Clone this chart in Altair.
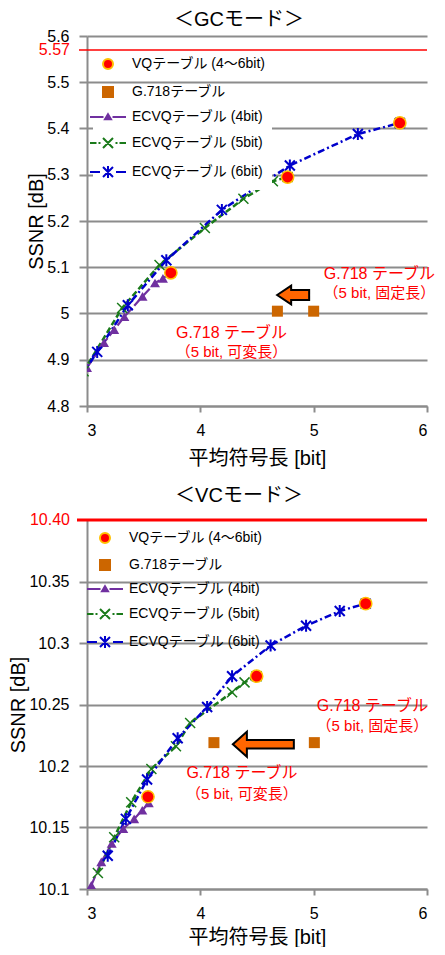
import altair as alt
import pandas as pd

FONT = "Liberation Sans, Noto Sans CJK JP, sans-serif"

# ---------------- data ----------------
series_names = ["VQテーブル (4～6bit)", "G.718テーブル", "ECVQテーブル (4bit)",
                "ECVQテーブル (5bit)", "ECVQテーブル (6bit)"]
x_ticks = [3, 4, 5, 6]

# GC mode
gc_vq_x = [3.74, 4.77, 5.76]
gc_vq_y = [5.088, 5.295, 5.412]
gc_g718_x = [4.68, 5.00]
gc_g718_y = [5.005, 5.005]
gc_e4_x = [3.00, 3.15, 3.24, 3.33, 3.49, 3.60, 3.67, 3.74]
gc_e4_y = [4.883, 4.937, 4.965, 4.993, 5.037, 5.066, 5.076, 5.088]
gc_e5_x = [2.97, 3.31, 3.64, 4.04, 4.38, 4.64, 4.77]
gc_e5_y = [4.875, 5.012, 5.105, 5.185, 5.248, 5.286, 5.295]
gc_e6_x = [2.88, 3.09, 3.36, 3.70, 4.19, 4.79, 5.39, 5.76]
gc_e6_y = [4.840, 4.917, 5.018, 5.115, 5.224, 5.320, 5.388, 5.412]
gc_limit = [5.57]
gc_limit_label = ["5.57"]
gc_y_ticks = [4.8, 4.9, 5.0, 5.1, 5.2, 5.3, 5.4, 5.5, 5.6]
gc_ann_x = [5.58, 5.58, 4.275, 4.275]
gc_ann_y = [5.086, 5.045, 4.958, 4.917]
gc_ann_text = ["G.718 テーブル", "（5 bit, 固定長）", "G.718 テーブル", "（5 bit, 可変長）"]
gc_arrow_x = [4.819]
gc_arrow_y = [5.040]

# VC mode
vc_vq_x = [3.538, 4.497, 5.459]
vc_vq_y = [10.175, 10.273, 10.332]
vc_g718_x = [4.12, 5.006]
vc_g718_y = [10.219, 10.219]
vc_e4_x = [3.038, 3.126, 3.218, 3.320, 3.416, 3.488, 3.545]
vc_e4_y = [10.103, 10.122, 10.137, 10.149, 10.157, 10.164, 10.170]
vc_e5_x = [3.096, 3.240, 3.390, 3.568, 3.785, 3.910, 4.280, 4.390, 4.497]
vc_e5_y = [10.113, 10.142, 10.1705, 10.1976, 10.216, 10.235, 10.260, 10.268, 10.273]
vc_e6_x = [3.183, 3.343, 3.530, 3.800, 4.060, 4.280, 4.620, 4.933, 5.230, 5.459]
vc_e6_y = [10.127, 10.157, 10.189, 10.2225, 10.248, 10.273, 10.298, 10.314, 10.326, 10.332]
vc_limit = [10.40]
vc_limit_label = ["10.40"]
vc_y_ticks = [10.1, 10.15, 10.2, 10.25, 10.3, 10.35]
vc_ann_x = [5.518, 5.518, 4.367, 4.367]
vc_ann_y = [10.249, 10.2325, 10.194, 10.177]
vc_ann_text = ["G.718 テーブル", "（5 bit, 固定長）", "G.718 テーブル", "（5 bit, 可変長）"]
vc_arrow_x = [4.556]
vc_arrow_y = [10.2177]

# ---------------- styles ----------------
RED = "#FF0000"
GOLD = "#FFC000"
BROWN = "#CC6600"
PURPLE = "#7030A0"
GREEN = "#1A7A1A"
BLUE = "#0000CC"
GRAY = "#8C8C8C"

X_PATH = "M -1 -1 L 1 1 M -1 1 L 1 -1"
AST_PATH = "M -1 -1 L 1 1 M -1 1 L 1 -1 M 0 -1.2 L 0 1.2"
LEG4 = "M -3.6 0 L -0.9 0 M 0.9 0 L 3.6 0 M 0 -0.55 L 0.6 0.45 L -0.6 0.45 Z"
LEG5 = "M -3.6 0 L -2.3 0 M -1.9 0 L -1.5 0 M 1.5 0 L 1.9 0 M 2.3 0 L 3.6 0 " + X_PATH
LEG6 = "M -3.6 0 L -1.6 0 M 1.6 0 L 3.6 0 " + AST_PATH
leg_shapes = ["circle", "square", LEG4, LEG5, LEG6]
leg_fills = [RED, BROWN, PURPLE, "transparent", "transparent"]
leg_strokes = [GOLD, BROWN, PURPLE, GREEN, BLUE]


def legend_layer(names, shapes, fills, strokes, lx, ly, pad, fillc, rowpad):
    legend = alt.Legend(orient="none", legendX=lx, legendY=ly, title=None,
                        labelFont=FONT, labelFontSize=14, symbolSize=100,
                        symbolStrokeWidth=2, labelOffset=17, rowPadding=rowpad,
                        padding=pad, fillColor=fillc, labelLimit=400)
    d = pd.DataFrame({"series": names})
    return alt.Chart(d).mark_point(size=100, filled=True, opacity=1).encode(
        shape=alt.Shape("series:N", scale=alt.Scale(domain=names, range=shapes),
                        legend=legend, sort=names),
        fill=alt.Fill("series:N", scale=alt.Scale(domain=names, range=fills),
                      legend=legend, sort=names),
        stroke=alt.Stroke("series:N", scale=alt.Scale(domain=names, range=strokes),
                          legend=legend, sort=names),
    ).transform_filter("false")


def panel(title, vq_x, vq_y, g_x, g_y, e4_x, e4_y, e5_x, e5_y, e6_x, e6_y,
          limit, limit_label, limit_w, limit_x0, y_ticks, ydom, ann_x, ann_y, ann_text,
          arr_x, arr_y, arr_path, arr_size, width, height, legA, legB, title_off,
          x_title_pad):
    X = alt.X("x:Q", scale=alt.Scale(domain=[3, 6], nice=False, zero=False),
              axis=alt.Axis(values=x_ticks, title="平均符号長 [bit]", grid=False,
                            tickSize=6, labelPadding=10, titlePadding=x_title_pad))
    Y = alt.Y("y:Q", scale=alt.Scale(domain=ydom, nice=False, zero=False),
              axis=alt.Axis(values=y_ticks, title="SSNR [dB]", grid=True,
                            tickSize=8, labelPadding=10, format="~g", titlePadding=0))

    def df(xs, ys):
        return pd.DataFrame({"x": xs, "y": ys})

    layers = []
    # ECVQ lines
    layers.append(alt.Chart(df(e4_x, e4_y)).mark_line(
        clip=True, color=PURPLE, strokeWidth=2.2, strokeDash=[10, 3]).encode(x=X, y=Y))
    layers.append(alt.Chart(df(e5_x, e5_y)).mark_line(
        clip=True, color=GREEN, strokeWidth=2.5, strokeDash=[6, 3]).encode(x=X, y=Y))
    layers.append(alt.Chart(df(e6_x, e6_y)).mark_line(
        clip=True, color=BLUE, strokeWidth=2.5, strokeDash=[7, 3, 2, 3]).encode(x=X, y=Y))
    # ECVQ markers
    layers.append(alt.Chart(df(e4_x, e4_y)).mark_point(
        clip=True, shape="triangle-up", filled=True, color=PURPLE, size=100,
        opacity=1).encode(x=X, y=Y))
    layers.append(alt.Chart(df(e5_x, e5_y)).mark_point(
        clip=True, shape=X_PATH, filled=False, color=GREEN, strokeWidth=1.5,
        size=100, opacity=1).encode(x=X, y=Y))
    layers.append(alt.Chart(df(e6_x, e6_y)).mark_point(
        clip=True, shape=AST_PATH, filled=False, color=BLUE, strokeWidth=2,
        size=100, opacity=1).encode(x=X, y=Y))
    # VQ and G.718
    layers.append(alt.Chart(df(vq_x, vq_y)).mark_point(
        shape="circle", filled=True, fill=RED, stroke=GOLD, strokeWidth=1.5,
        size=150, opacity=1).encode(x=X, y=Y))
    layers.append(alt.Chart(df(g_x, g_y)).mark_point(
        shape="square", filled=True, color=BROWN, size=121, opacity=1).encode(x=X, y=Y))
    # limit rule + label
    lim = pd.DataFrame({"y": limit, "t": limit_label})
    layers.append(alt.Chart(lim).mark_rule(color=RED, strokeWidth=limit_w).encode(
        y=Y, x=alt.value(limit_x0), x2=alt.value(width)))
    layers.append(alt.Chart(lim).mark_text(
        color=RED, font=FONT, fontSize=16, align="right", baseline="middle").encode(
        y=Y, x=alt.value(-17), text="t:N"))
    # annotations
    ann = pd.DataFrame({"x": ann_x, "y": ann_y, "t": ann_text,
                        "fs": [16, 15, 16, 15]})
    layers.append(alt.Chart(ann).mark_text(
        color=RED, font=FONT, align="center", baseline="middle").encode(
        x=X, y=Y, text="t:N", size=alt.Size("fs:Q", scale=None, legend=None)))
    layers.append(alt.Chart(df(arr_x, arr_y)).mark_point(
        shape=arr_path, filled=True, fill="#FF6600", stroke="black", strokeWidth=2,
        size=arr_size, opacity=1).encode(x=X, y=Y))
    # legends (two blocks)
    layers.append(legend_layer(series_names[:2], leg_shapes[:2], leg_fills[:2],
                               leg_strokes[:2], *legA))
    layers.append(legend_layer(series_names[2:], leg_shapes[2:], leg_fills[2:],
                               leg_strokes[2:], *legB))

    return alt.layer(*layers).resolve_scale(
        shape="independent", fill="independent", stroke="independent"
    ).properties(
        width=width, height=height,
        title=alt.TitleParams(text=title, font=FONT, fontSize=20, fontWeight="normal",
                              anchor="middle", dx=-18, offset=title_off, color="black"))


gc = panel("＜GCモード＞", gc_vq_x, gc_vq_y, gc_g718_x, gc_g718_y, gc_e4_x, gc_e4_y,
           gc_e5_x, gc_e5_y, gc_e6_x, gc_e6_y, gc_limit, gc_limit_label, 1.5, -8,
           gc_y_ticks, [4.8, 5.6], gc_ann_x, gc_ann_y, gc_ann_text, gc_arrow_x,
           gc_arrow_y,
           "M -1 0 L -0.125 -0.59 L -0.125 -0.31 L 1 -0.31 L 1 0.31 L -0.125 0.31 L -0.125 0.59 Z",
           1024, 340, 370,
           (14, 21, 0, "transparent", 10), (6, 66, 8, "white", 10), -2, 10)

vc = panel("＜VCモード＞", vc_vq_x, vc_vq_y, vc_g718_x, vc_g718_y, vc_e4_x, vc_e4_y,
           vc_e5_x, vc_e5_y, vc_e6_x, vc_e6_y, vc_limit, vc_limit_label, 3, -10,
           vc_y_ticks, [10.1, 10.4], vc_ann_x, vc_ann_y, vc_ann_text, vc_arrow_x,
           vc_arrow_y,
           "M -1 0 L -0.54 -0.41 L -0.54 -0.14 L 1 -0.14 L 1 0.14 L -0.54 0.14 L -0.54 0.41 Z",
           3721, 340, 369,
           (11, 11, 0, "transparent", 9), (11, 62, 0, "transparent", 9), 6, 6)

chart = alt.vconcat(gc, vc, spacing=18).resolve_scale(
    x="independent", y="independent", shape="independent", fill="independent",
    stroke="independent").configure_view(stroke=None).configure_axis(
    labelFont=FONT, labelFontSize=16, labelColor="black", titleFont=FONT,
    titleFontSize=20, titleFontWeight="normal", titleColor="black",
    domainColor=GRAY, domainWidth=2, tickColor=GRAY, tickWidth=2,
    gridColor=GRAY, gridWidth=2).properties(
    padding={"top": 2, "left": 0, "right": 0, "bottom": 0})

chart.save("out.html", embed_options={"renderer": "svg", "actions": False})
